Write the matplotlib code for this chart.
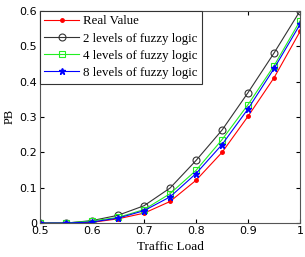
import matplotlib
matplotlib.use('Agg')
import matplotlib.pyplot as plt
import numpy as np

traffic_load = [0.5, 0.55, 0.6, 0.65, 0.7, 0.75, 0.8, 0.85, 0.9, 0.95, 1.0]
real_value = [0, 0, 0.002, 0.012, 0.028, 0.061, 0.121, 0.2, 0.302, 0.411, 0.542]
fuzzy_2 = [0, 0, 0.007, 0.022, 0.049, 0.099, 0.177, 0.263, 0.369, 0.481, 0.6]
fuzzy_4 = [0, 0, 0.006, 0.016, 0.038, 0.083, 0.149, 0.236, 0.335, 0.445, 0.572]
fuzzy_8 = [0, 0, 0.003, 0.014, 0.035, 0.074, 0.14, 0.222, 0.323, 0.437, 0.562]

fig = plt.figure(figsize=(3.05, 2.57), dpi=100)
ax = fig.add_axes([0.131, 0.132, 0.853, 0.826])

ax.plot(traffic_load, real_value, color='red', marker='.', markersize=5, lw=0.8, label='Real Value')
ax.plot(traffic_load, fuzzy_2, color='#333333', marker='o', markersize=5, mfc='none', lw=0.8,
        markeredgewidth=0.8, label='2 levels of fuzzy logic')
ax.plot(traffic_load, fuzzy_4, color='#22ee22', marker='s', markersize=5, mfc='none', lw=0.8,
        markeredgewidth=0.8, label='4 levels of fuzzy logic')
ax.plot(traffic_load, fuzzy_8, color='blue', marker='*', markersize=4.5, lw=0.8,
        label='8 levels of fuzzy logic')

ax.set_xlim(0.5, 1.0)
ax.set_ylim(0, 0.6)
ax.set_xticks([0.5, 0.6, 0.7, 0.8, 0.9, 1.0])
ax.set_xticklabels(['0.5', '0.6', '0.7', '0.8', '0.9', '1'])
ax.set_yticks([0, 0.1, 0.2, 0.3, 0.4, 0.5, 0.6])
ax.set_yticklabels(['0', '0.1', '0.2', '0.3', '0.4', '0.5', '0.6'])
ax.tick_params(direction='in', top=True, right=True, labelsize=8, length=3, pad=2)
for s in ax.spines.values():
    s.set_color('#555555')
    s.set_linewidth(0.8)

ax.set_xlabel('Traffic Load', family='Liberation Serif', fontsize=9.5, labelpad=4)
ax.set_ylabel('PB', family='Liberation Serif', fontsize=9, labelpad=3)

leg = ax.legend(loc='upper left', prop={'family': 'Liberation Serif', 'size': 9.3},
                handlelength=2.7, borderaxespad=0, fancybox=False, framealpha=1,
                edgecolor='#333333', labelspacing=0.4, handletextpad=0.3, borderpad=0.35)
leg.get_frame().set_linewidth(0.8)

fig.savefig('out.png', dpi=100)
